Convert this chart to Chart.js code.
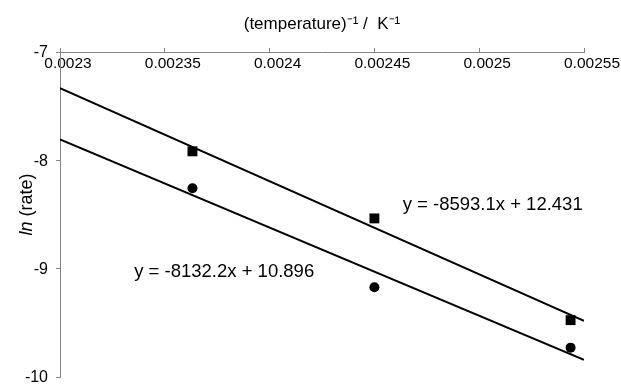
<!DOCTYPE html>
<html lang="en">
<head>
    <meta charset="UTF-8">
    <title>ln(rate) vs 1/T</title>
    <script src="https://cdn.jsdelivr.net/npm/chart.js@4.4.0/dist/chart.umd.min.js"></script>
    <style>
        body {
            margin: 0;
            background: #fff;
        }
        #wrap {
            width: 621px;
            height: 384px;
        }
    </style>
</head>
<body>
    <div id="wrap"><canvas id="myChart" width="621" height="384"></canvas></div>

<script>
// data
var invT = [0.0023632, 0.0024500, 0.0025436];
var lnRateSquares = [-7.917, -8.536, -9.475];
var lnRateCircles = [-8.258, -9.171, -9.729];

// trendline end points (x = 0.0023 and x = 0.00255)
var trendX = [0.0023, 0.00255];
var trendSquares = [-7.333, -9.481];
var trendCircles = [-7.808, -9.841];

var xTickValues = [0.0023, 0.00235, 0.0024, 0.00245, 0.0025, 0.00255];
var xTickLabels = ['0.0023', '0.00235', '0.0024', '0.00245', '0.0025', '0.00255'];
var yTickValues = [-10, -9, -8, -7];
var yTickLabels = ['-10', '-9', '-8', '-7'];

var equations = ['y = -8593.1x + 12.431', 'y = -8132.2x + 10.896'];

var FONT = "'Liberation Sans', Arial, sans-serif";
var AXIS_GREY = '#868686';

function pairs(xs, ys) {
    return xs.map(function (x, i) { return {x: x, y: ys[i]}; });
}

// y axis title (italic "ln") and the trendline equations
var textPlugin = {
    id: 'texts',
    afterDraw: function (chart) {
        var ctx = chart.ctx;
        var xs = chart.scales.x, ys = chart.scales.y;
        var area = chart.chartArea;

        ctx.save();
        ctx.fillStyle = '#000';
        ctx.textBaseline = 'middle';

        // y title
        ctx.translate(27, (area.top + area.bottom) / 2 - 10);
        ctx.rotate(-Math.PI / 2);
        ctx.font = 'italic 18px ' + FONT;
        var w1 = ctx.measureText('ln').width;
        ctx.font = '18px ' + FONT;
        var w2 = ctx.measureText(' (rate)').width;
        var start = -(w1 + w2) / 2;
        ctx.textAlign = 'left';
        ctx.font = 'italic 18px ' + FONT;
        ctx.fillText('ln', start, 0);
        ctx.font = '18px ' + FONT;
        ctx.fillText(' (rate)', start + w1, 0);
        ctx.restore();

        ctx.save();
        ctx.fillStyle = '#000';
        ctx.textBaseline = 'middle';
        ctx.textAlign = 'left';
        ctx.font = '18.5px ' + FONT;
        ctx.fillText(equations[0], xs.getPixelForValue(0.0024635), ys.getPixelForValue(-8.408));
        ctx.fillText(equations[1], xs.getPixelForValue(0.0023354), ys.getPixelForValue(-9.027));
        ctx.restore();
    }
};

var ctx = document.getElementById('myChart').getContext('2d');
var myChart = new Chart(ctx, {
    type: 'scatter',
    data: {
        datasets: [{
            label: 'trend squares',
            data: pairs(trendX, trendSquares),
            showLine: true,
            borderColor: '#000',
            borderWidth: 2,
            pointRadius: 0
        }, {
            label: 'trend circles',
            data: pairs(trendX, trendCircles),
            showLine: true,
            borderColor: '#000',
            borderWidth: 2,
            pointRadius: 0
        }, {
            label: 'squares',
            data: pairs(invT, lnRateSquares),
            pointStyle: 'rect',
            pointRadius: 7,
            pointBorderWidth: 0,
            backgroundColor: '#000',
            borderColor: '#000'
        }, {
            label: 'circles',
            data: pairs(invT, lnRateCircles),
            pointStyle: 'circle',
            pointRadius: 5,
            pointBorderWidth: 0,
            backgroundColor: '#000',
            borderColor: '#000'
        }]
    },
    options: {
        responsive: false,
        animation: false,
        layout: {
            padding: {left: 0, right: 37, top: 0, bottom: 6}
        },
        plugins: {
            legend: {display: false},
            tooltip: {enabled: false}
        },
        scales: {
            x: {
                type: 'linear',
                position: 'top',
                min: 0.0023,
                max: 0.00255,
                afterBuildTicks: function (scale) {
                    scale.ticks = xTickValues.map(function (v) { return {value: v}; });
                },
                afterFit: function (scale) {
                    scale.paddingLeft = 0;
                    scale.paddingRight = 0;
                },
                ticks: {
                    mirror: true,
                    padding: 2,
                    labelOffset: 8,
                    maxRotation: 0,
                    minRotation: 0,
                    align: 'center',
                    color: '#000',
                    font: {family: FONT, size: 15.5},
                    callback: function (v, i) { return xTickLabels[i]; }
                },
                grid: {
                    drawOnChartArea: false,
                    tickLength: 4,
                    color: AXIS_GREY
                },
                border: {color: AXIS_GREY},
                title: {
                    display: true,
                    text: '(temperature)\u207B\u00B9 /  K\u207B\u00B9',
                    color: '#000',
                    font: {family: FONT, size: 17},
                    padding: {top: 13.8, bottom: 9.8}
                }
            },
            y: {
                type: 'linear',
                min: -10,
                max: -7,
                afterBuildTicks: function (scale) {
                    scale.ticks = yTickValues.map(function (v) { return {value: v}; });
                },
                afterFit: function (scale) {
                    scale.width = 60;
                    scale.paddingTop = 0;
                    scale.paddingBottom = 0;
                },
                ticks: {
                    padding: 8,
                    labelOffset: 1,
                    color: '#000',
                    font: {family: FONT, size: 16},
                    callback: function (v, i) { return yTickLabels[i]; }
                },
                grid: {
                    drawOnChartArea: false,
                    tickLength: 4,
                    color: AXIS_GREY
                },
                border: {color: AXIS_GREY}
            }
        }
    },
    plugins: [textPlugin]
});
</script>
</body>
</html>
